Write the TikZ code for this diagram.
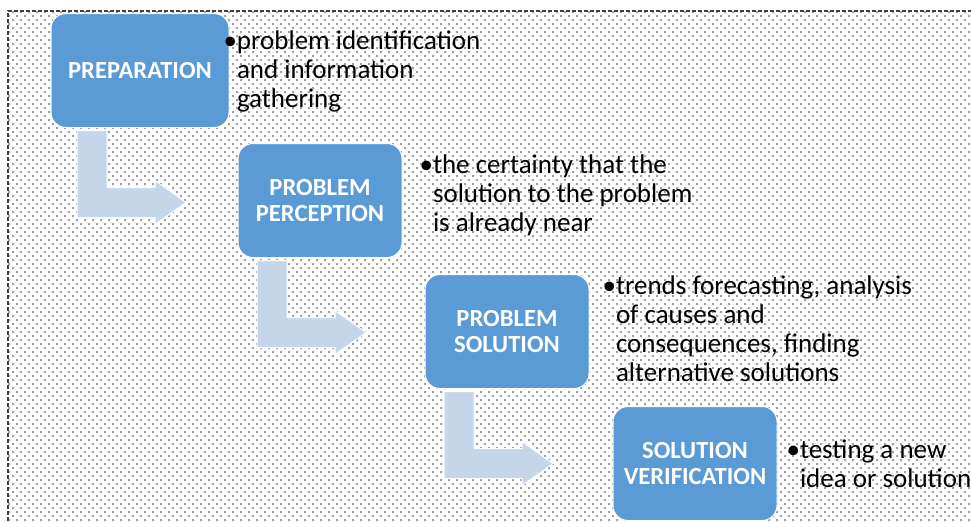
\documentclass[tikz,border=0pt]{standalone}
\usepackage{fontspec}
\setmainfont{Carlito}
\usepackage{tikz}
\usepackage{xcolor}
\usetikzlibrary{positioning}
\usetikzlibrary{patterns}
\definecolor{boxblue}{HTML}{5B9BD5}
\definecolor{arrowblue}{HTML}{C5D5EA}
\definecolor{dotgray}{HTML}{A0A0A0}
\definecolor{framegray}{HTML}{404040}
\pgfdeclarepatternformonly{bgdots}{\pgfqpoint{-1pt}{-1pt}}{\pgfqpoint{5pt}{5pt}}{\pgfqpoint{4pt}{4pt}}{
  \pgfpathrectangle{\pgfqpoint{0pt}{0pt}}{\pgfqpoint{1pt}{1pt}}
  \pgfpathrectangle{\pgfqpoint{2pt}{2pt}}{\pgfqpoint{1pt}{1pt}}
  \pgfusepath{fill}
}
\tikzstyle{stepbox} = [rectangle, rounded corners=7.5pt, minimum width=82pt, minimum height=57pt, outer sep=0pt, text centered, align=center, draw=white, line width=0.5pt, fill=boxblue, text=white, font=\fontsize{12.3}{13}\selectfont\bfseries]
\tikzstyle{note} = [inner sep=0pt, outer sep=0pt, align=left, font=\fontsize{13.5}{14.5}\selectfont]
\tikzstyle{bendarrow} = [fill=arrowblue, draw=white, line width=0.5pt]

\begin{document}
\begin{tikzpicture}[x=0.5pt, y=-0.5pt]
        \useasboundingbox (0,0) rectangle (971,521);
        \fill [pattern=bgdots, pattern color=dotgray] (8,11) rectangle (971,521);
        \draw [framegray, dashed, dash pattern=on 2pt off 1pt, line width=0.75pt] (8,521) -- (8,11) -- (971,11);

        \node (preparation) [stepbox, minimum width=89pt] at (140,70.5) {PREPARATION};
        \node (perception) [stepbox, below right=8pt and 4.5pt of preparation] {PROBLEM\\PERCEPTION};
        \node (solution) [stepbox, below right=8.5pt and 11.5pt of perception] {PROBLEM\\SOLUTION};
        \node (verification) [stepbox, below right=9pt and 12pt of solution] {SOLUTION\\VERIFICATION};

        \node (preparationNote) [note, below right=8.5pt and 4pt of preparation.north east] {\llap{\textbullet}problem identification\\and information\\gathering};
        \node (perceptionNote) [note, below right=5.5pt and 15.5pt of perception.north east] {\llap{\textbullet}the certainty that the\\solution to the problem\\is already near};
        \node (solutionNote) [note, below right=0.5pt and 13.5pt of solution.north east] {\llap{\textbullet}trends forecasting, analysis\\of causes and\\consequences, finding\\alternative solutions};
        \node (verificationNote) [note, below right=16.5pt and 11.5pt of verification.north east] {\llap{\textbullet}testing a new\\idea or solution};

        \foreach \from/\dx in {preparation/13pt, perception/9.5pt, solution/9.5pt}
            \filldraw [bendarrow] ([xshift=\dx, yshift=-1.5pt]\from.south west) -- ++(30,0) -- ++(0,57) -- ++(48,0) -- ++(0,-7) -- ++(31,22) -- ++(-31,22) -- ++(0,-7) -- ++(-78,0) -- cycle;

    \end{tikzpicture}
\end{document}
